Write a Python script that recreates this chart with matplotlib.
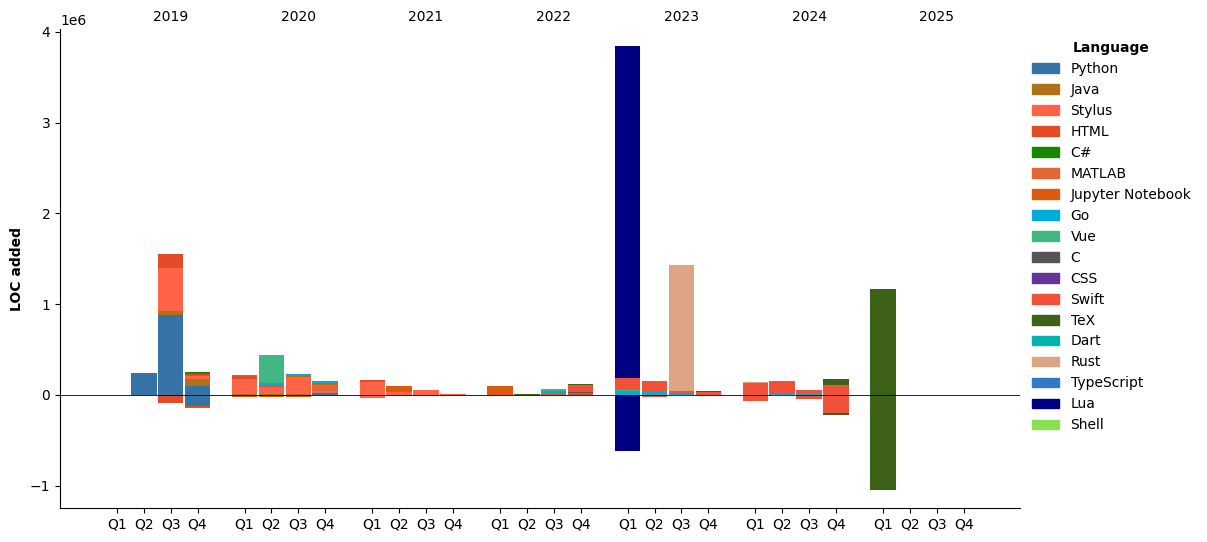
import numpy as np
import matplotlib
matplotlib.use('Agg')
import matplotlib.pyplot as plt
from matplotlib.patches import Patch

years = [2019, 2020, 2021, 2022, 2023, 2024, 2025]
quarters = ['Q1', 'Q2', 'Q3', 'Q4']

languages = ['Python', 'Java', 'Stylus', 'HTML', 'C#', 'MATLAB', 'Jupyter Notebook', 'Go', 'Vue',
             'C', 'CSS', 'Swift', 'TeX', 'Dart', 'Rust', 'TypeScript', 'Lua', 'Shell']
colors = ['#3572A5', '#b07219', '#ff6347', '#e34c26', '#178600', '#e16737', '#DA5B0B', '#00ADD8', '#41b883',
          '#555555', '#663399', '#F05138', '#3D6117', '#00B4AB', '#dea584', '#3178c6', '#000080', '#89e051']

# LOC in thousands, one value per quarter (2019 Q1 .. 2025 Q4), sparse {index: value}
python_add = {1: 240, 2: 880, 3: 100, 7: 22}
python_del = {3: 118}
java_add = {2: 44, 3: 74, 4: 10, 5: 12, 6: 10}
stylus_add = {2: 477, 3: 37, 4: 162, 5: 77, 6: 187, 7: 18, 8: 147, 9: 37, 10: 55, 11: 14}
stylus_del = {8: 29}
html_add = {2: 151, 3: 22, 4: 33, 5: 10, 8: 18, 12: 10, 14: 12, 15: 25}
html_del = {2: 85}
csharp_add = {3: 22}
matlab_add = {7: 70}
jupyter_add = {6: 15, 7: 18, 9: 62, 12: 90}
jupyter_del = {3: 22, 4: 20, 5: 20, 6: 20}
go_add = {4: 11, 5: 30, 6: 15, 7: 26, 14: 29, 16: 42, 17: 45, 18: 12, 21: 15, 22: 22}
vue_add = {5: 309, 14: 22, 16: 10}
c_add = {15: 11}
swift_add = {15: 77, 16: 130, 17: 110, 18: 35, 19: 38, 20: 132, 21: 140, 22: 33, 23: 110}
swift_del = {17: 18, 20: 66, 22: 44, 23: 198}
tex_add = {13: 11, 15: 11, 19: 8, 23: 66, 24: 1168}
tex_del = {23: 22, 24: 1047}
rust_add = {18: 1388, 20: 11}
lua_add = {16: 3660}
lua_del = {16: 617}

added = {'Python': python_add, 'Java': java_add, 'Stylus': stylus_add, 'HTML': html_add, 'C#': csharp_add,
         'MATLAB': matlab_add, 'Jupyter Notebook': jupyter_add, 'Go': go_add, 'Vue': vue_add, 'C': c_add,
         'Swift': swift_add, 'TeX': tex_add, 'Rust': rust_add, 'Lua': lua_add}
removed = {'Python': python_del, 'Stylus': stylus_del, 'HTML': html_del, 'Jupyter Notebook': jupyter_del,
           'Swift': swift_del, 'TeX': tex_del, 'Lua': lua_del}

n = len(years) * len(quarters)
x = np.array([yi * 4.75 + q for yi in range(len(years)) for q in range(4)])

def to_arr(d):
    a = np.zeros(n)
    for k, v in d.items():
        a[k] = v * 1000
    return a

fig = plt.figure(figsize=(12.07, 5.42), dpi=100)
ax = fig.add_axes([0.0497, 0.0627, 0.7957, 0.8838])

pos_bottom = np.zeros(n)
neg_bottom = np.zeros(n)
for lang, col in zip(languages, colors):
    a = to_arr(added.get(lang, {}))
    r = to_arr(removed.get(lang, {}))
    if a.any():
        ax.bar(x, a, 0.95, bottom=pos_bottom, color=col)
        pos_bottom += a
    if r.any():
        ax.bar(x, -r, 0.95, bottom=neg_bottom, color=col)
        neg_bottom -= r

ax.axhline(0, color='black', linewidth=0.6)
ax.set_xticks(x)
ax.set_xticklabels(quarters * len(years))
ax.set_xlim(-2.117, 33.61)
ax.set_ylim(-1.245e6, 4.03e6)
ax.set_ylabel('LOC added', fontweight='bold')
ax.spines['top'].set_visible(False)
ax.spines['right'].set_visible(False)

for yi, yr in enumerate(years):
    ax.text(yi * 4.75 + 2, 1.026, str(yr), transform=ax.get_xaxis_transform(),
            ha='center', va='center', fontsize=10)

handles = [Patch(color=c, label=l) for l, c in zip(languages, colors)]
ax.legend(handles=handles, title='Language', title_fontproperties={'weight': 'bold'},
          loc='upper left', bbox_to_anchor=(1.006, 0.986), borderaxespad=0, frameon=False)

fig.savefig('out.png', dpi=100)
